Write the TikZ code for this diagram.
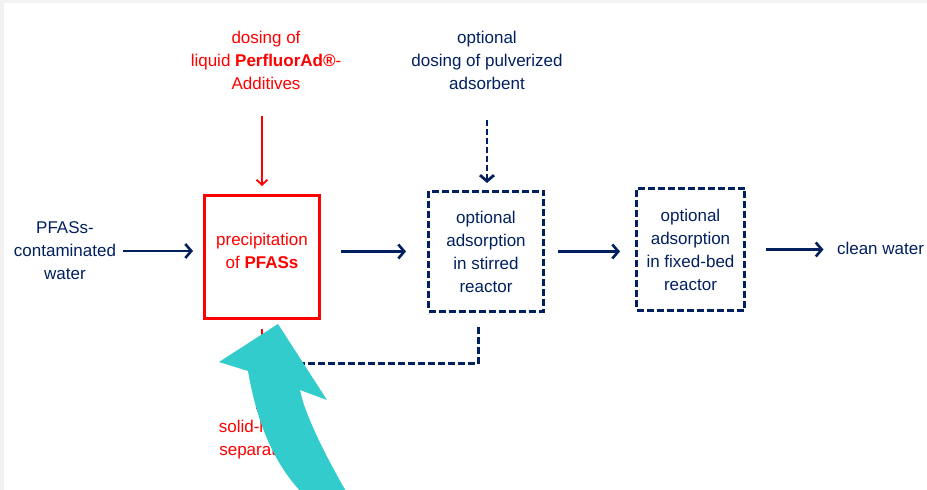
\documentclass[tikz,border=0pt]{standalone}
\usepackage{fontspec}
\setmainfont{Liberation Sans}
\usepackage{tikz}
\usetikzlibrary{arrows.meta}
\definecolor{navy}{RGB}{0,32,96}
\definecolor{pfred}{RGB}{255,0,0}
\definecolor{teal33}{RGB}{51,204,204}
\definecolor{frame}{RGB}{242,242,242}
\tikzstyle{line} = [draw, navy, line width=2.6pt, -{Straight Barb[length=6pt, width=14pt]}]
\tikzstyle{dashline} = [draw, navy, line width=3pt, dash pattern=on 7pt off 3pt]
\tikzstyle{redline} = [draw, pfred, line width=1.8pt, -{Straight Barb[length=5pt, width=11pt]}]
\tikzstyle{redbox} = [rectangle, draw=pfred, line width=3pt, text=pfred, minimum width=115pt, minimum height=123pt, align=center, font=\fontsize{17}{23}\selectfont]
\tikzstyle{dashbox} = [rectangle, draw=navy, line width=3pt, dash pattern=on 7pt off 3pt, text=navy, minimum width=115pt, minimum height=120pt, align=center, font=\fontsize{17}{23}\selectfont]
\tikzstyle{textblk} = [text=navy, align=center, font=\fontsize{17}{23}\selectfont]
\tikzstyle{redtext} = [text=pfred, align=center, font=\fontsize{17}{23}\selectfont]

\begin{document}
\begin{tikzpicture}[x=1pt, y=1pt]
		\useasboundingbox (0,0) rectangle (927,490);
		\fill [frame] (0,0) rectangle (927,490);
		\fill [white] (4,0) rectangle (927,487);
		
		\node [redbox] (prec) at (262,233) {precipitation\\of \textbf{PFASs}\rule[-12pt]{0pt}{12pt}};
		\node [textblk, left of = prec, node distance = 197pt, yshift = 6pt] (feed) {PFASs-\\contaminated\\water};
		\path [line, shorten <= 3pt, shorten >= 10pt] (feed.east) to (feed.east -| prec.west);
		
		\node [dashbox, right of = prec, node distance = 224pt, yshift = 5.5pt] (sbox) {optional\\adsorption\\in stirred\\reactor};
		\path [line, shorten <= 20pt, shorten >= 21pt] (sbox.west -| prec.east) to (sbox.west);
		
		\node [dashbox, right of = sbox, node distance = 204.5pt, yshift = 2pt, minimum width = 108pt, minimum height = 122pt] (fbox) {optional\\adsorption\\in fixed-bed\\reactor};
		\path [line, shorten <= 13pt, shorten >= 15pt] (sbox.east) to (sbox.east -| fbox.west);
		
		\node [textblk, right of = fbox, node distance = 190pt, yshift = 1.5pt] (clean) {clean water};
		\path [line, shorten <= 20pt, shorten >= 10pt] (fbox.east) to (fbox.east -| clean.west);
		
		\node [redtext, above of = prec, node distance = 197pt, xshift = 4pt] (dose) {dosing of\\liquid \textbf{PerfluorAd®}-\\Additives};
		\path [redline, shorten <= 23pt, shorten >= 8pt] (dose.south -| prec.north) to (prec.north);
		
		\node [textblk, above of = sbox, node distance = 191.5pt, xshift = 1pt] (pulv) {optional\\dosing of pulverized\\adsorbent};
		\path [line, line width = 2.8pt, dash pattern = on 6pt off 3pt, shorten <= 27pt, shorten >= 7pt] (pulv.south) to (pulv.south |- sbox.north);
		
		\node [redtext, below of = prec, node distance = 183pt, xshift = -3pt] (sep) {solid-liquid\\separation};
		\path [redline, shorten <= 9pt, shorten >= 3pt] (prec.south) to (sep.north -| prec.south);
		
		\coordinate (recyc) at ([yshift = -44pt]prec.south);
		\path [dashline, shorten <= 14pt] ([xshift = -8pt]sbox.south) |- (recyc);
		
		\fill [teal33] (278,166) -- (219,128) -- (248,119) .. controls (254,85) and (266,35) .. (302,-3)
			-- (347,-3) .. controls (325,35) and (305,75) .. (300,100) -- (327,90) -- cycle;
\end{tikzpicture}
\end{document}
